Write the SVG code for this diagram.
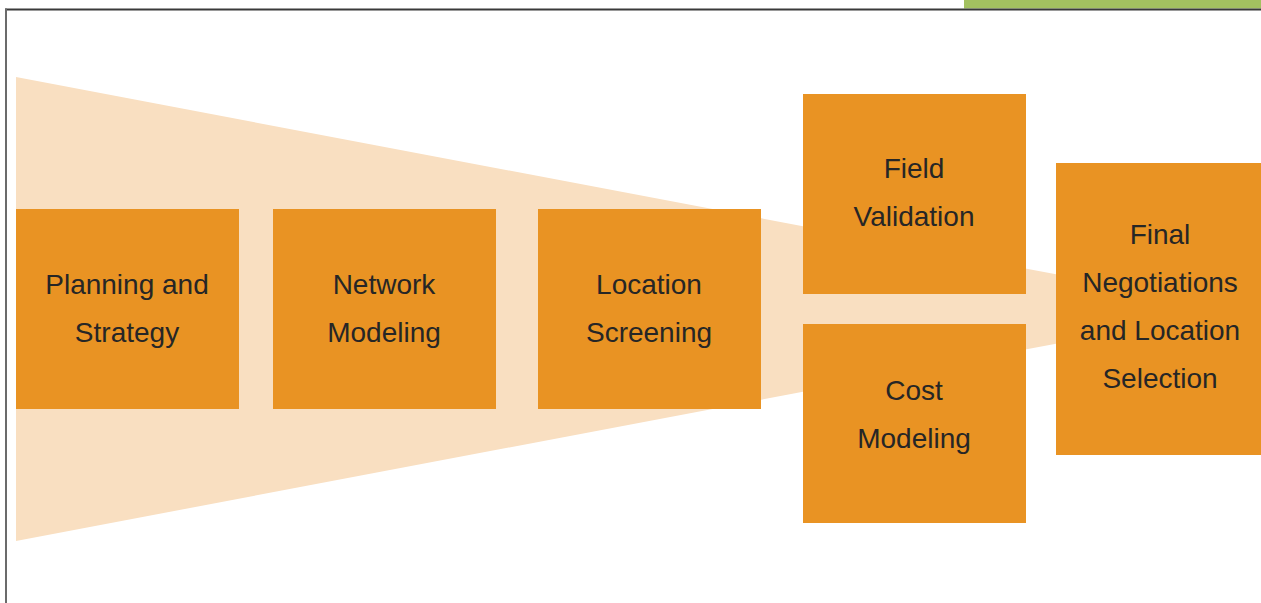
<svg xmlns="http://www.w3.org/2000/svg" width="1261" height="603" viewBox="0 0 1261 603">
  <style>
    .box { fill: #E99323; }
    .label { font-family: "Liberation Sans", Arial, sans-serif; font-size: 28px; fill: #262626; text-anchor: middle; }
  </style>
  <rect x="0" y="0" width="1261" height="603" fill="#ffffff"/>

  <!-- frame and header strip -->
  <rect x="964" y="0" width="297" height="8.5" fill="#A3C160"/>
  <rect x="5" y="8.5" width="1256" height="1.5" fill="#3a3a3a"/>
  <rect x="5" y="10" width="1256" height="1" fill="#9a9a9a"/>
  <rect x="5" y="8.5" width="2" height="594.5" fill="#6b6b6b"/>

  <!-- funnel backdrop -->
  <polygon points="16,77 1060,275 1060,343 16,541" fill="#F9DFC1"/>

  <g id="connectors"></g>

  <g id="planning">
    <rect class="box" x="16" y="209" width="223" height="200"/>
    <text class="label" x="127" y="294">Planning and</text>
    <text class="label" x="127" y="342">Strategy</text>
  </g>

  <g id="network">
    <rect class="box" x="273" y="209" width="223" height="200"/>
    <text class="label" x="384" y="294">Network</text>
    <text class="label" x="384" y="342">Modeling</text>
  </g>

  <g id="screening">
    <rect class="box" x="538" y="209" width="223" height="200"/>
    <text class="label" x="649" y="294">Location</text>
    <text class="label" x="649" y="342">Screening</text>
  </g>

  <g id="field">
    <rect class="box" x="803" y="94" width="223" height="200"/>
    <text class="label" x="914" y="178">Field</text>
    <text class="label" x="914" y="226">Validation</text>
  </g>

  <g id="cost">
    <rect class="box" x="803" y="324" width="223" height="199"/>
    <text class="label" x="914" y="400">Cost</text>
    <text class="label" x="914" y="448">Modeling</text>
  </g>

  <g id="final">
    <rect class="box" x="1056" y="163" width="205" height="292"/>
    <text class="label" x="1160" y="244">Final</text>
    <text class="label" x="1160" y="292">Negotiations</text>
    <text class="label" x="1160" y="340">and Location</text>
    <text class="label" x="1160" y="388">Selection</text>
  </g>
</svg>
